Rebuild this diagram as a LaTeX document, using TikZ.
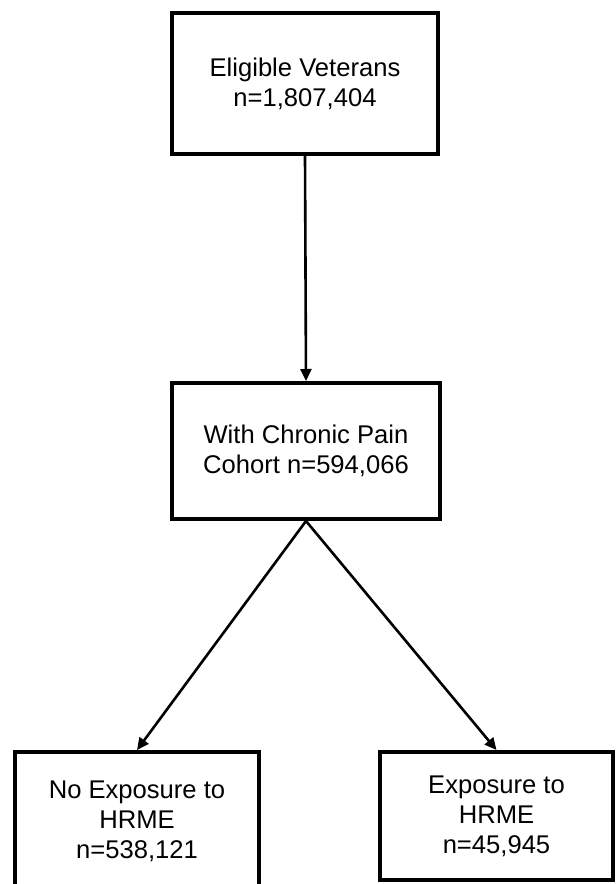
\documentclass[tikz,border=0pt]{standalone}
\usepackage{fontspec}
\setmainfont{Liberation Sans}
\usetikzlibrary{arrows.meta}
\tikzset{
	flowbox/.style={
			draw, line width=2pt, align=center, inner sep=0pt,
			font=\fontsize{12.8}{15}\selectfont
		},
	flowarrow/.style={-{Triangle[length=6pt,width=5.5pt]}, line width=1.3pt}
}

\begin{document}
\begin{tikzpicture}[x=0.5pt,y=-0.5pt]
    \useasboundingbox (0,0) rectangle (616,884);
    \clip (0,0) rectangle (616,884);
    \node[flowbox,minimum width=133pt,minimum height=70.5pt] (elig) at (305,83.5) {Eligible Veterans\\n=1,807,404};
    \node[flowbox,minimum width=134pt,minimum height=68pt] (cohort) at (306,451) {With Chronic Pain\\Cohort n=594,066};
    \node[flowbox,minimum width=122pt,minimum height=69pt] (noexp) at (137,821) {No Exposure to\\HRME\\n=538,121};
    \node[flowbox,minimum width=116.5pt,minimum height=64pt] (exp) at (496.5,816) {Exposure to\\HRME\\n=45,945};
    \draw[flowarrow] (elig.south) -- (cohort.north);
    \draw[flowarrow] (cohort.south) -- (noexp.north);
    \draw[flowarrow] (cohort.south) -- (exp.north);
\end{tikzpicture}
\end{document}
